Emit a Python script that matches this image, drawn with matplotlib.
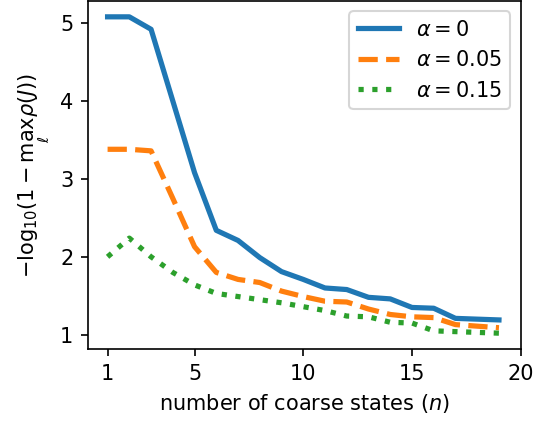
import matplotlib
matplotlib.use("Agg")
import matplotlib.pyplot as plt

# values
n_states = list(range(1, 20))
alpha_0 = [5.08, 5.08, 4.92, 4.00, 3.08, 2.34, 2.21, 1.99, 1.81, 1.71,
           1.60, 1.58, 1.48, 1.46, 1.35, 1.34, 1.21, 1.20, 1.19]
alpha_005 = [3.38, 3.38, 3.36, 2.75, 2.13, 1.80, 1.71, 1.67, 1.56, 1.49,
             1.43, 1.42, 1.33, 1.26, 1.23, 1.22, 1.13, 1.11, 1.09]
alpha_015 = [2.00, 2.24, 2.00, 1.80, 1.64, 1.53, 1.49, 1.45, 1.41, 1.36,
             1.31, 1.24, 1.23, 1.16, 1.15, 1.05, 1.04, 1.03, 1.02]
x_ticks = [1, 5, 10, 15, 20]

fig = plt.figure(figsize=(535 / 150, 424 / 150), dpi=150)
ax = fig.add_axes([0.1645, 0.1769, 0.8088, 0.8207])

ax.plot(n_states, alpha_0, '-', lw=2.5, label=r'$\alpha=0$')
ax.plot(n_states, alpha_005, '--', lw=2.5, label=r'$\alpha=0.05$')
ax.plot(n_states, alpha_015, ':', lw=2.5, label=r'$\alpha=0.15$')

ax.set_xticks(x_ticks)
ax.set_xlabel(r'number of coarse states ($n$)')
ax.set_ylabel(r'$-\log_{10}\!(1-\max_\ell\rho(J))$')
ax.legend(loc='upper right')

fig.savefig('out.png', dpi=150)
